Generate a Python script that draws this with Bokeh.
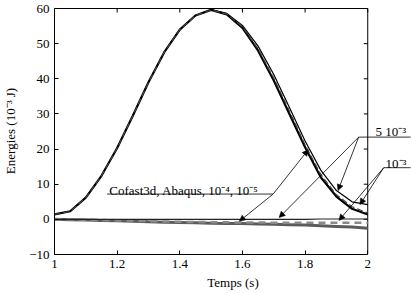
from bokeh.plotting import figure
from bokeh.models import (ColumnDataSource, FixedTicker, CustomJSTickFormatter,
                          Label, Arrow, NormalHead, Range1d)
from bokeh.embed import file_html
from bokeh.resources import INLINE

# Time samples (s)
temps = [1.00, 1.05, 1.10, 1.15, 1.20, 1.25, 1.30, 1.35, 1.40, 1.45, 1.50,
         1.55, 1.60, 1.65, 1.70, 1.75, 1.80, 1.85, 1.90, 1.95, 2.00]

# Kinetic energy (1e-3 J)
ec_cofast = [1.4, 2.3, 6.2, 12.4, 20.3, 29.5, 39.0, 47.5, 54.0, 58.0, 59.6,
             58.3, 54.5, 48.0, 39.5, 30.0, 20.5, 12.0, 6.5, 3.0, 1.4]
ec_abaqus = [1.4, 2.3, 6.2, 12.4, 20.3, 29.5, 39.0, 47.5, 54.0, 58.0, 59.6,
             58.4, 54.8, 48.5, 40.2, 30.8, 21.2, 12.8, 7.0, 3.6, 1.8]
ec_dt5e3 = [1.4, 2.3, 6.2, 12.4, 20.3, 29.5, 39.0, 47.5, 54.0, 58.0, 59.7,
            58.6, 55.2, 49.3, 41.2, 31.8, 22.3, 14.0, 8.2, 5.0, 4.2]

# Other energy contributions (1e-3 J)
e_ref = [0.0, 0.0, 0.0, 0.0, 0.0, 0.0, 0.0, 0.0, 0.0, 0.0, 0.0,
         0.0, 0.0, 0.0, 0.0, 0.0, 0.0, 0.1, 0.1, 0.1, 0.1]
e_dashed = [0.0, 0.0, -0.1, -0.2, -0.3, -0.4, -0.5, -0.6, -0.7, -0.75, -0.8,
            -0.85, -0.9, -0.9, -0.95, -1.0, -1.0, -1.0, -1.0, -1.0, -1.0]
e_grey = [0.0, -0.1, -0.2, -0.3, -0.4, -0.55, -0.7, -0.8, -0.9, -1.0, -1.1,
          -1.15, -1.2, -1.3, -1.4, -1.5, -1.6, -1.8, -2.0, -2.2, -2.5]

x_ticks = [1.0, 1.2, 1.4, 1.6, 1.8, 2.0]
y_ticks = [-10, 0, 10, 20, 30, 40, 50, 60]
X_MIN, X_MAX = 1.0, 2.0
Y_MIN, Y_MAX = -10.0, 60.0

FONT = "Liberation Serif"

src = ColumnDataSource(dict(t=temps, cofast=ec_cofast, abaqus=ec_abaqus,
                            dt5e3=ec_dt5e3, ref=e_ref, dashed=e_dashed,
                            grey=e_grey))

# The frame runs past x = 2 so the side labels and their leaders fit;
# the axes box itself is drawn from X_MIN..X_MAX / Y_MIN..Y_MAX.
W, H = 411, 293
B_LEFT, B_RIGHT, B_TOP, B_BOTTOM = 52, 0, 7, 39
PX_X = 315.0                                   # pixels per second
PX_Y = (H - B_TOP - B_BOTTOM - 1) / (Y_MAX - Y_MIN)   # pixels per 1e-3 J
p = figure(width=W, height=H, output_backend="svg", toolbar_location=None,
           x_range=Range1d(X_MIN, X_MIN + (W - B_LEFT - B_RIGHT) / PX_X),
           y_range=Range1d(Y_MIN, Y_MAX + 1 / PX_Y))
p.min_border_left = B_LEFT
p.min_border_right = B_RIGHT
p.min_border_top = B_TOP
p.min_border_bottom = B_BOTTOM
p.background_fill_color = "white"
p.border_fill_color = "white"
p.outline_line_color = None
p.grid.visible = False

# box: top and right edges with inward ticks
tx = 4 / PX_X
ty = 4 / PX_Y
p.segment(x0=[X_MIN, X_MAX], y0=[Y_MAX, Y_MIN], x1=[X_MAX, X_MAX],
          y1=[Y_MAX, Y_MAX], line_color="black", line_width=1)
p.segment(x0=x_ticks, y0=[Y_MAX] * len(x_ticks), x1=x_ticks,
          y1=[Y_MAX - ty] * len(x_ticks), line_color="black", line_width=1)
p.segment(x0=[X_MAX] * len(y_ticks), y0=y_ticks,
          x1=[X_MAX - tx] * len(y_ticks), y1=y_ticks,
          line_color="black", line_width=1)

# lower energies near zero
p.line("t", "grey", source=src, line_color="#5c5c5c", line_width=3)
p.line("t", "dashed", source=src, line_color="#8a8a8a", line_width=2.5,
       line_dash="7 5")
p.line("t", "ref", source=src, line_color="#222222", line_width=1.2)

# kinetic energies
p.line("t", "dt5e3", source=src, line_color="black", line_width=1.2)
p.line("t", "cofast", source=src, line_color="black", line_width=2.2)
p.line("t", "abaqus", source=src, line_color="#444444", line_width=1.2,
       line_dash="6 3")

num_fmt = CustomJSTickFormatter(code="""
    var s = Number(tick.toFixed(1)).toString();
    return s.replace('-', '\u2212');
""")

xa = p.xaxis[0]
xa.ticker = FixedTicker(ticks=x_ticks)
xa.formatter = num_fmt
xa.bounds = (X_MIN, X_MAX)
xa.axis_label = "Temps (s)"
ya = p.yaxis[0]
ya.ticker = FixedTicker(ticks=y_ticks)
ya.formatter = num_fmt
ya.bounds = (Y_MIN, Y_MAX)
ya.axis_label = "Energies (10\u207b\u00b3 J)"

for ax in (xa, ya):
    ax.major_tick_in = 4
    ax.major_tick_out = 0
    ax.minor_tick_in = 0
    ax.minor_tick_out = 0
    ax.axis_line_color = "black"
    ax.major_tick_line_color = "black"
    ax.major_label_text_font = FONT
    ax.major_label_text_font_size = "13px"
    ax.major_label_text_color = "black"
    ax.axis_label_text_font = FONT
    ax.axis_label_text_font_size = "13px"
    ax.axis_label_text_font_style = "normal"
    ax.axis_label_text_color = "black"
xa.major_label_standoff = 5
xa.axis_label_standoff = 4
ya.major_label_standoff = 5
ya.axis_label_standoff = 8

# annotations
def seg(x0, y0, x1, y1, head=True):
    end = NormalHead(size=6, fill_color="black", line_color="black",
                     line_width=0.5) if head else None
    p.add_layout(Arrow(x_start=x0, y_start=y0, x_end=x1, y_end=y1, end=end,
                       line_color="black", line_width=0.8))

def label(x, y, text):
    p.add_layout(Label(x=x, y=y, text=text, text_font=FONT,
                       text_font_size="13px", text_color="black",
                       text_baseline="alphabetic", text_align="left"))

label(1.175, 8.3, "Cofast3d, Abaqus, 10\u207b\u2074, 10\u207b\u2075")
seg(1.168, 7.2, 1.698, 7.2, head=False)
seg(1.698, 7.2, 1.81, 19.8)
seg(1.698, 7.2, 1.59, -0.55)

label(2.025, 24.9, "5 10\u207b\u00b3")
seg(1.971, 23.4, 2.137, 23.4, head=False)
seg(1.971, 23.4, 1.905, 8.2)
seg(1.971, 23.4, 1.717, 0.5)

label(2.057, 15.9, "10\u207b\u00b3")
seg(2.051, 14.7, 2.137, 14.7, head=False)
seg(2.051, 14.7, 1.975, 4.2)
seg(2.051, 14.7, 1.908, -0.3)

open("out.html", "w").write(file_html(p, INLINE))
